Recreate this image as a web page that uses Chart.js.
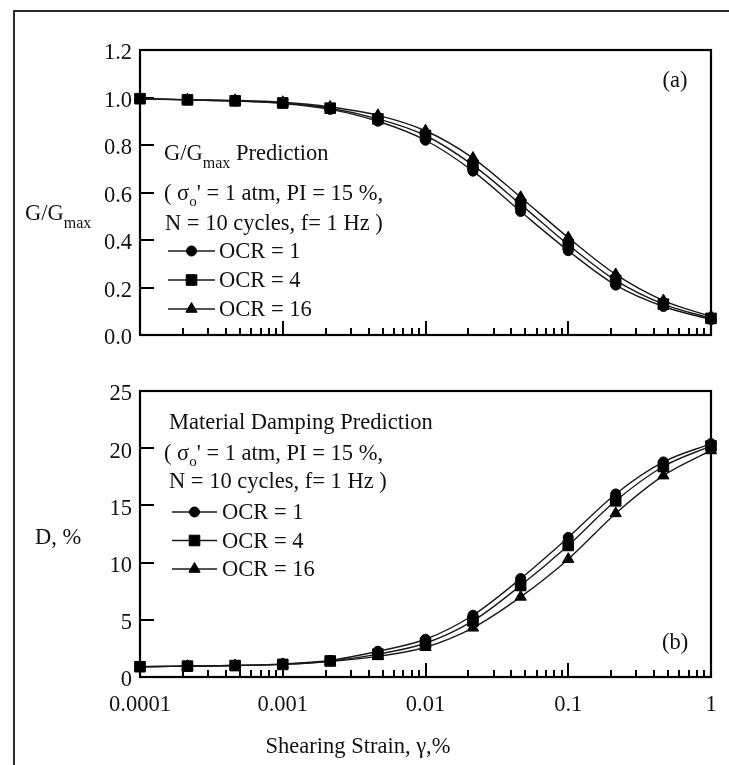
<!DOCTYPE html>
<html>
<head>
<meta charset="utf-8">
<script src="https://cdn.jsdelivr.net/npm/chart.js@4.4.1/dist/chart.umd.min.js"></script>
<style>
  html, body { margin: 0; padding: 0; background: #fff; }
  #page { position: relative; width: 729px; height: 765px; overflow: hidden; background: #fff; }
  #frame { position: absolute; left: 13px; top: 10px; width: 900px; height: 900px;
           border-left: 2px solid #2b2b2b; border-top: 2px solid #2b2b2b; }
  .panel { position: absolute; left: 0; }
</style>
</head>
<body>
<div id="page">
  <div id="frame"></div>
  <div class="panel" style="top:0"><canvas id="chartG" width="729" height="360"></canvas></div>
  <div class="panel" style="top:360px"><canvas id="chartD" width="729" height="405"></canvas></div>
</div>
<script>
// Shearing strain (%) at which the curves are evaluated
const strain = [0.0001, 0.000215, 0.000464, 0.001, 0.00215, 0.00464, 0.01, 0.0215, 0.0464, 0.1, 0.215, 0.464, 1];

// Normalized shear modulus G/Gmax
const gRatioOCR1  = [0.995, 0.99, 0.985, 0.975, 0.95, 0.90, 0.82, 0.69, 0.52, 0.355, 0.21, 0.12, 0.065];
const gRatioOCR4  = [0.995, 0.99, 0.986, 0.977, 0.955, 0.91, 0.84, 0.715, 0.55, 0.38, 0.23, 0.13, 0.07];
const gRatioOCR16 = [0.995, 0.991, 0.988, 0.98, 0.96, 0.925, 0.86, 0.745, 0.58, 0.41, 0.255, 0.145, 0.078];

// Material damping ratio D (%)
const dampingOCR1  = [0.9, 0.95, 1.0, 1.15, 1.45, 2.25, 3.3, 5.4, 8.6, 12.2, 16.0, 18.8, 20.4];
const dampingOCR4  = [0.9, 0.95, 1.0, 1.1, 1.4, 2.0, 2.95, 4.9, 8.0, 11.5, 15.4, 18.4, 20.2];
const dampingOCR16 = [0.9, 0.95, 1.0, 1.1, 1.35, 1.8, 2.6, 4.3, 7.0, 10.3, 14.3, 17.6, 19.8];

const seriesLabels = ['OCR = 1', 'OCR = 4', 'OCR = 16'];
const seriesMarkers = ['circle', 'rect', 'triangle'];

// Axis ticks
const xTickValues = [0.0001, 0.001, 0.01, 0.1, 1];
const xTickLabels = ['0.0001', '0.001', '0.01', '0.1', '1'];
const gTickValues = [0, 0.2, 0.4, 0.6, 0.8, 1.0, 1.2];
const gTickLabels = ['0.0', '0.2', '0.4', '0.6', '0.8', '1.0', '1.2'];
const dTickValues = [0, 5, 10, 15, 20, 25];
const dTickLabels = ['0', '5', '10', '15', '20', '25'];

const SERIF = '"Liberation Serif", "Times New Roman", serif';
const STRETCH = 1.0;
const INK = '#111';
const FS = 22.5;

function runWidth(ctx, t, size) {
  ctx.font = size + 'px ' + SERIF;
  return ctx.measureText(t).width * STRETCH;
}
// Draws a sequence of text runs (with optional subscripts) on one baseline.
function drawRuns(ctx, runs, x, baseline, align) {
  let total = 0;
  runs.forEach(r => { total += runWidth(ctx, r.t, r.size || FS); });
  let cx = align === 'center' ? x - total / 2 : align === 'right' ? x - total : x;
  runs.forEach(r => {
    const size = r.size || FS;
    ctx.save();
    ctx.font = size + 'px ' + SERIF;
    ctx.fillStyle = INK;
    ctx.textAlign = 'left';
    ctx.textBaseline = 'alphabetic';
    ctx.translate(cx, baseline + (r.dy || 0));
    ctx.scale(STRETCH, 1);
    ctx.fillText(r.t, 0, 0);
    ctx.restore();
    cx += runWidth(ctx, r.t, size);
  });
}
// centre-line to baseline for the serif digits / capitals
const mid = (y) => y + FS * 0.33;

const panelDecor = {
  id: 'panelDecor',
  beforeDatasetsDraw(chart, args, opts) {
    const ctx = chart.ctx;
    const a = chart.chartArea;
    const xs = chart.scales.x, ys = chart.scales.y;
    ctx.save();
    ctx.strokeStyle = '#000';
    // plot frame
    ctx.lineWidth = 2.2;
    ctx.strokeRect(a.left, a.top, a.right - a.left, a.bottom - a.top);
    // inward log ticks on the strain axis
    ctx.lineWidth = 2;
    ctx.beginPath();
    for (let e = -4; e <= 0; e++) {
      for (let m = 1; m <= 9; m++) {
        const v = m * Math.pow(10, e);
        if (v > 1.0000001) break;
        const px = Math.round(xs.getPixelForValue(v));
        const len = m === 1 ? 14 : 7;
        ctx.moveTo(px, a.bottom);
        ctx.lineTo(px, a.bottom - len);
      }
    }
    // inward value ticks
    opts.yTicks.forEach(v => {
      const py = Math.round(ys.getPixelForValue(v));
      ctx.moveTo(a.left, py);
      ctx.lineTo(a.left + 14, py);
    });
    ctx.stroke();
    ctx.restore();
  },
  afterDraw(chart, args, opts) {
    const ctx = chart.ctx;
    const a = chart.chartArea;
    const xs = chart.scales.x, ys = chart.scales.y;
    // value tick labels
    opts.yTicks.forEach((v, i) => {
      drawRuns(ctx, [{ t: opts.yLabels[i] }], a.left - 8, mid(ys.getPixelForValue(v) + 2), 'right');
    });
    // strain tick labels and axis title
    if (opts.showX) {
      xTickValues.forEach((v, i) => {
        drawRuns(ctx, [{ t: xTickLabels[i] }], xs.getPixelForValue(v), mid(a.bottom + 27), 'center');
      });
      drawRuns(ctx, [{ t: 'Shearing Strain, \u03B3,%' }], a.left + 218, mid(a.bottom + 69), 'center');
    }
    // vertical axis title
    drawRuns(ctx, opts.yTitle, a.left - 115 + (opts.yTitleDx || 0), mid(a.top + opts.yTitleDy), 'left');
    // panel tag
    drawRuns(ctx, [{ t: opts.tag }], a.right - 36, mid(a.top + opts.tagDy), 'center');
    // annotation block
    opts.notes.forEach(n => drawRuns(ctx, n.runs, a.left + n.dx, mid(a.top + n.dy), 'left'));
    // series key
    const k = opts.key;
    chart.data.datasets.forEach((ds, i) => {
      const y = a.top + k.dy + i * k.gap;
      ctx.save();
      ctx.strokeStyle = ds.borderColor;
      ctx.lineWidth = ds.borderWidth;
      ctx.beginPath();
      ctx.moveTo(a.left + k.x0, y);
      ctx.lineTo(a.left + k.x1, y);
      ctx.stroke();
      ctx.fillStyle = ds.pointBackgroundColor;
      ctx.strokeStyle = ds.pointBorderColor;
      ctx.lineWidth = 1;
      Chart.helpers.drawPoint(ctx, { pointStyle: ds.pointStyle, radius: ds.pointRadius, rotation: 0, borderWidth: 1 },
        a.left + (k.x0 + k.x1) / 2, y);
      ctx.restore();
      drawRuns(ctx, [{ t: ds.label }], a.left + k.tx, mid(y), 'left');
    });
  }
};

const markerRadius = { circle: 5, rect: 7.5, triangle: 6.5 };

function makeDatasets(seriesList) {
  return seriesList.map((vals, i) => ({
    label: seriesLabels[i],
    data: strain.map((x, j) => ({ x: x, y: vals[j] })),
    borderColor: '#1a1a1a',
    borderWidth: 1.4,
    pointStyle: seriesMarkers[i],
    pointRadius: markerRadius[seriesMarkers[i]],
    pointBackgroundColor: '#000',
    pointBorderColor: '#000',
    pointBorderWidth: 1,
    cubicInterpolationMode: 'monotone',
    clip: false,
    fill: false
  }));
}

function makeScales(yMin, yMax, xHeight) {
  return {
    x: {
      type: 'logarithmic', min: 0.0001, max: 1,
      grid: { display: false, drawTicks: false }, border: { display: false },
      ticks: { display: false },
      afterFit: s => { s.height = xHeight; }
    },
    y: {
      min: yMin, max: yMax,
      grid: { display: false, drawTicks: false }, border: { display: false },
      ticks: { display: false },
      afterFit: s => { s.width = 140; }
    }
  };
}

const sigmaLine = [{ t: '( \u03C3' }, { t: 'o', size: 15, dy: 6 }, { t: "' = 1 atm, PI = 15 %," }];
const cyclesLine = [{ t: 'N = 10 cycles, f= 1 Hz )' }];

new Chart(document.getElementById('chartG'), {
  type: 'line',
  data: { datasets: makeDatasets([gRatioOCR1, gRatioOCR4, gRatioOCR16]) },
  options: {
    responsive: false, animation: false, events: [],
    layout: { padding: { left: 0, right: 18, top: 50, bottom: 0 } },
    scales: makeScales(0, 1.2, 25),
    plugins: {
      legend: { display: false }, tooltip: { enabled: false },
      panelDecor: {
        yTicks: gTickValues, yLabels: gTickLabels, showX: false,
        yTitle: [{ t: 'G/G' }, { t: 'max', size: 16, dy: 8 }], yTitleDy: 163,
        tag: '(a)', tagDy: 30,
        notes: [
          { dx: 24, dy: 103, runs: [{ t: 'G/G' }, { t: 'max', size: 16, dy: 8 }, { t: ' Prediction' }] },
          { dx: 24, dy: 143, runs: sigmaLine },
          { dx: 25, dy: 172.5, runs: cyclesLine }
        ],
        key: { dy: 201, gap: 29, x0: 28, x1: 75, tx: 79 }
      }
    }
  },
  plugins: [panelDecor]
});

new Chart(document.getElementById('chartD'), {
  type: 'line',
  data: { datasets: makeDatasets([dampingOCR1, dampingOCR4, dampingOCR16]) },
  options: {
    responsive: false, animation: false, events: [],
    layout: { padding: { left: 0, right: 18, top: 31, bottom: 0 } },
    scales: makeScales(0, 25, 88),
    plugins: {
      legend: { display: false }, tooltip: { enabled: false },
      panelDecor: {
        yTicks: dTickValues, yLabels: dTickLabels, showX: true,
        yTitle: [{ t: 'D, %' }], yTitleDx: 10, yTitleDy: 146,
        tag: '(b)', tagDy: 251,
        notes: [
          { dx: 29, dy: 30.7, runs: [{ t: 'Material Damping Prediction' }] },
          { dx: 24, dy: 61.5, runs: sigmaLine },
          { dx: 29, dy: 90, runs: cyclesLine }
        ],
        key: { dy: 121, gap: 28.5, x0: 32, x1: 77, tx: 82 }
      }
    }
  },
  plugins: [panelDecor]
});
</script>
</body>
</html>
